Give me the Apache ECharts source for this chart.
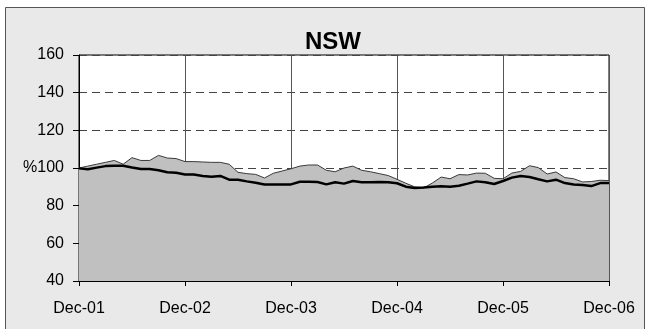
<!DOCTYPE html>
<html>
<head>
<meta charset="utf-8">
<script src="https://cdn.jsdelivr.net/npm/echarts@6/dist/echarts.min.js"></script>
<style>
  html, body { margin: 0; padding: 0; background: #fff; }
  #nsw { width: 649px; height: 329px; }
</style>
</head>
<body>
<div id="nsw"></div>
<script>
// monthly, Dec-01 .. Dec-06
var yearLabels = ['Dec-01', 'Dec-02', 'Dec-03', 'Dec-04', 'Dec-05', 'Dec-06'];
var upperVals = [100, 101, 102, 103, 104, 102, 105.5, 104, 104, 106.7, 105.3, 105,
  103.4, 103.4, 103.2, 103, 103, 102, 97.7, 97, 96.6, 94.7, 97.2, 98.4,
  99.6, 101, 101.6, 101.6, 98.8, 98, 100, 101, 98.8, 98, 97, 96,
  94, 91.9, 90, 89.4, 92, 95.2, 94.3, 96.5, 96.3, 97.3, 97.2, 94.5,
  94.3, 97.3, 98.2, 101.2, 100.2, 96.8, 97.9, 94.9, 94.3, 92.6, 92.8, 93.5, 93.3];
var blackVals = [99.8, 99.3, 100.2, 101, 101.2, 101.2, 100.3, 99.5, 99.5, 98.8, 97.7, 97.5,
  96.6, 96.5, 95.8, 95.4, 95.8, 93.8, 93.8, 92.9, 92.2, 91.2, 91.2, 91.2,
  91.3, 92.7, 92.7, 92.6, 91.3, 92.4, 91.7, 93.1, 92.4, 92.4, 92.6, 92.4,
  91.9, 90.1, 89.4, 89.6, 90.1, 90.3, 90.1, 90.6, 91.7, 92.9, 92.4, 91.5,
  93.1, 94.9, 95.8, 95.2, 94, 92.9, 93.8, 92, 91.2, 91, 90.4, 92, 92];

var months = [];
for (var i = 0; i < upperVals.length; i++) {
  months.push(i % 12 === 0 ? yearLabels[i / 12] : 'm' + i);
}

var chart = echarts.init(document.getElementById('nsw'));
var font = 'Arial, "Liberation Sans", sans-serif';

chart.setOption({
  animation: false,
  backgroundColor: '#fff',
  graphic: [{
    type: 'rect',
    z: -10,
    shape: { x: 5.5, y: 7.5, width: 639, height: 330 },
    style: { fill: '#e9e9e9', stroke: '#555', lineWidth: 1 }
  }],
  title: {
    text: 'NSW',
    left: 328,
    textAlign: 'center',
    top: 25,
    textStyle: { fontFamily: font, fontSize: 24, fontWeight: 'bold', color: '#000' }
  },
  grid: {
    left: 79, right: 40, top: 55, bottom: 48,
    show: true,
    backgroundColor: '#fff',
    borderColor: '#000',
    borderWidth: 1
  },
  xAxis: {
    type: 'category',
    boundaryGap: false,
    data: months,
    axisLine: { lineStyle: { color: '#000', width: 1 } },
    axisTick: { interval: 11, length: 5, lineStyle: { color: '#000' } },
    axisLabel: {
      interval: 11, margin: 20,
      fontFamily: font, fontSize: 16, color: '#000'
    },
    splitLine: { show: true, interval: 11, lineStyle: { color: '#555', width: 1 } }
  },
  yAxis: {
    type: 'value',
    min: 40, max: 160, interval: 20,
    axisLine: { show: true, lineStyle: { color: '#000', width: 1 } },
    axisTick: { show: true, length: 6, lineStyle: { color: '#000' } },
    axisLabel: {
      margin: 15, fontFamily: font, fontSize: 16, color: '#000',
      formatter: function (v) { return v === 100 ? '%100' : v; }
    },
    splitLine: { show: true, lineStyle: { color: '#444', type: [8, 5], width: 1 } }
  },
  series: [{
    type: 'line',
    data: upperVals,
    symbol: 'none',
    lineStyle: { color: '#3a3a3a', width: 1 },
    areaStyle: { color: '#c0c0c0', opacity: 1, origin: 'start' },
    z: 2
  }, {
    type: 'line',
    data: blackVals,
    symbol: 'none',
    lineStyle: { color: '#000', width: 2.5 },
    z: 3
  }]
});
</script>
</body>
</html>
